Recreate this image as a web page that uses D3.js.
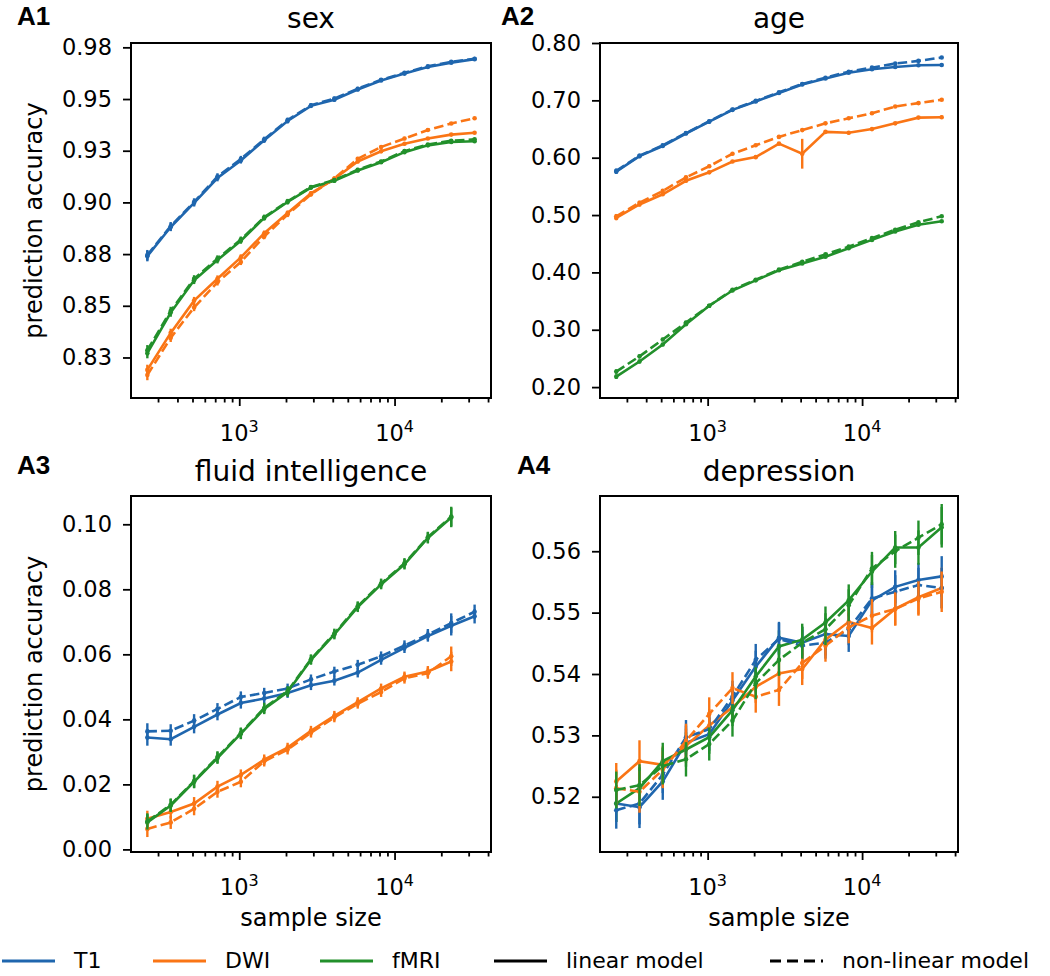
<!DOCTYPE html>
<html>
<head>
<meta charset="utf-8">
<script src="https://cdn.jsdelivr.net/npm/d3@7"></script>
<style>
  html, body { margin: 0; padding: 0; background: #fff; overflow: hidden; }
  svg { display: block; }
  text { font-family: "DejaVu Sans", sans-serif; fill: #000; }
  .plabel { font-family: "Liberation Sans", Arial, sans-serif; font-weight: bold; }
</style>
</head>
<body>
<div id="chart"></div>
<script>
// ---- data ----
const sampleSizes = [256, 362, 512, 724, 1024, 1448, 2048, 2896, 4096, 5793, 8192, 11585, 16384, 23170, 32768];

// A1 sex
const sexT1Lin   = [0.8740, 0.8881, 0.8998, 0.9118, 0.9203, 0.9301, 0.9394, 0.9467, 0.9497, 0.9546, 0.9590, 0.9623, 0.9655, 0.9676, 0.9693];
const sexT1Non   = [0.8745, 0.8885, 0.9002, 0.9125, 0.9210, 0.9305, 0.9398, 0.9470, 0.9502, 0.9550, 0.9593, 0.9627, 0.9658, 0.9680, 0.9695];
const sexDwiLin  = [0.8190, 0.8369, 0.8525, 0.8631, 0.8734, 0.8851, 0.8949, 0.9044, 0.9113, 0.9198, 0.9247, 0.9284, 0.9309, 0.9328, 0.9337];
const sexDwiNon  = [0.8165, 0.8345, 0.8492, 0.8614, 0.8712, 0.8835, 0.8941, 0.9039, 0.9116, 0.9211, 0.9268, 0.9309, 0.9350, 0.9382, 0.9407];
const sexFmriLin = [0.8271, 0.8467, 0.8623, 0.8721, 0.8815, 0.8925, 0.9002, 0.9072, 0.9105, 0.9154, 0.9194, 0.9243, 0.9276, 0.9292, 0.9296];
const sexFmriNon = [0.8285, 0.8475, 0.8630, 0.8728, 0.8820, 0.8928, 0.9005, 0.9074, 0.9108, 0.9158, 0.9198, 0.9248, 0.9280, 0.9298, 0.9305];
const sexErr     = [0.0025, 0.0020, 0.0018, 0.0016, 0.0015, 0.0013, 0.0012, 0.0010, 0.0010, 0.0009, 0.0008, 0.0008, 0.0007, 0.0007, 0.0006];

// A2 age
const ageT1Lin   = [0.5757, 0.6027, 0.6204, 0.6422, 0.6628, 0.6834, 0.6981, 0.7129, 0.7276, 0.7382, 0.7482, 0.7541, 0.7582, 0.7611, 0.7617];
const ageT1Non   = [0.5770, 0.6035, 0.6215, 0.6430, 0.6635, 0.6840, 0.6990, 0.7140, 0.7285, 0.7395, 0.7500, 0.7570, 0.7641, 0.7688, 0.7747];
const ageDwiLin  = [0.4950, 0.5185, 0.5362, 0.5598, 0.5745, 0.5933, 0.6010, 0.6245, 0.6069, 0.6451, 0.6434, 0.6499, 0.6599, 0.6699, 0.6705];
const ageDwiNon  = [0.4979, 0.5215, 0.5421, 0.5657, 0.5851, 0.6069, 0.6216, 0.6363, 0.6481, 0.6599, 0.6687, 0.6775, 0.6893, 0.6952, 0.7011];
const ageFmriLin = [0.2182, 0.2447, 0.2742, 0.3095, 0.3419, 0.3684, 0.3861, 0.4037, 0.4155, 0.4273, 0.4420, 0.4567, 0.4714, 0.4832, 0.4891];
const ageFmriNon = [0.2271, 0.2536, 0.2830, 0.3125, 0.3419, 0.3696, 0.3873, 0.4049, 0.4184, 0.4314, 0.4449, 0.4597, 0.4744, 0.4874, 0.4979];
const ageErr       = [0.0040, 0.0035, 0.0030, 0.0030, 0.0028, 0.0025, 0.0025, 0.0022, 0.0020, 0.0020, 0.0020, 0.0020, 0.0020, 0.0020, 0.0020];
const ageDwiLinErr = [0.0040, 0.0035, 0.0030, 0.0030, 0.0028, 0.0025, 0.0025, 0.0022, 0.0260, 0.0020, 0.0030, 0.0020, 0.0020, 0.0020, 0.0030];

// A3 fluid intelligence
const fluidT1Lin   = [0.0344, 0.0339, 0.0377, 0.0415, 0.0450, 0.0464, 0.0481, 0.0505, 0.0519, 0.0544, 0.0583, 0.0620, 0.0656, 0.0688, 0.0717];
const fluidT1Non   = [0.0363, 0.0365, 0.0396, 0.0432, 0.0469, 0.0481, 0.0495, 0.0523, 0.0547, 0.0568, 0.0594, 0.0627, 0.0661, 0.0696, 0.0731];
const fluidDwiLin  = [0.0094, 0.0115, 0.0141, 0.0193, 0.0229, 0.0276, 0.0313, 0.0365, 0.0411, 0.0453, 0.0495, 0.0531, 0.0547, 0.0578];
const fluidDwiNon  = [0.0063, 0.0083, 0.0125, 0.0177, 0.0208, 0.0271, 0.0307, 0.0359, 0.0406, 0.0448, 0.0484, 0.0526, 0.0542, 0.0594];
const fluidFmriLin = [0.0083, 0.0135, 0.0208, 0.0281, 0.0356, 0.0432, 0.0484, 0.0583, 0.0661, 0.0745, 0.0815, 0.0877, 0.0958, 0.1021];
const fluidFmriNon = [0.0086, 0.0137, 0.0210, 0.0284, 0.0358, 0.0435, 0.0487, 0.0585, 0.0664, 0.0748, 0.0818, 0.0880, 0.0960, 0.1024];
const fluidErr     = [0.0025, 0.0020, 0.0020, 0.0018, 0.0017, 0.0016, 0.0015, 0.0015, 0.0015, 0.0015, 0.0015, 0.0016, 0.0017, 0.0030, 0.0022];

// A4 depression
const deprT1Lin   = [0.5189, 0.5183, 0.5225, 0.5288, 0.5302, 0.5357, 0.5412, 0.5459, 0.5451, 0.5465, 0.5462, 0.5520, 0.5542, 0.5553, 0.5559];
const deprT1Non   = [0.5178, 0.5189, 0.5236, 0.5297, 0.5310, 0.5363, 0.5423, 0.5457, 0.5446, 0.5451, 0.5473, 0.5523, 0.5534, 0.5545, 0.5540];
const deprDwiLin  = [0.5225, 0.5258, 0.5252, 0.5283, 0.5316, 0.5346, 0.5379, 0.5401, 0.5408, 0.5456, 0.5485, 0.5475, 0.5506, 0.5525, 0.5540];
const deprDwiNon  = [0.5214, 0.5208, 0.5244, 0.5291, 0.5335, 0.5377, 0.5363, 0.5374, 0.5418, 0.5446, 0.5476, 0.5495, 0.5506, 0.5523, 0.5534];
const deprFmriLin = [0.5189, 0.5214, 0.5258, 0.5277, 0.5297, 0.5341, 0.5396, 0.5445, 0.5456, 0.5484, 0.5520, 0.5567, 0.5606, 0.5606, 0.5639];
const deprFmriNon = [0.5211, 0.5219, 0.5250, 0.5261, 0.5286, 0.5324, 0.5385, 0.5423, 0.5451, 0.5473, 0.5512, 0.5572, 0.5600, 0.5622, 0.5644];
const deprErr     = [0.0030, 0.0034, 0.0030, 0.0028, 0.0027, 0.0026, 0.0026, 0.0026, 0.0026, 0.0026, 0.0026, 0.0027, 0.0027, 0.0028, 0.0033];

// ticks
const sexTicks   = [0.825, 0.850, 0.875, 0.900, 0.925, 0.950, 0.975];
const sexLabels  = ['0.83', '0.85', '0.88', '0.90', '0.93', '0.95', '0.98'];
const ageTicks   = [0.2, 0.3, 0.4, 0.5, 0.6, 0.7, 0.8];
const ageLabels  = ['0.20', '0.30', '0.40', '0.50', '0.60', '0.70', '0.80'];
const fluidTicks = [0, 0.02, 0.04, 0.06, 0.08, 0.10];
const fluidLabels = ['0.00', '0.02', '0.04', '0.06', '0.08', '0.10'];
const deprTicks  = [0.52, 0.53, 0.54, 0.55, 0.56];
const deprLabels = ['0.52', '0.53', '0.54', '0.55', '0.56'];
const xMajor = [1000, 10000];
const xMajorExp = ['3', '4'];
const minorTicks = [200, 300, 400, 500, 600, 700, 800, 900, 2000, 3000, 4000, 5000, 6000, 7000, 8000, 9000, 20000, 30000, 40000];

const modalities = ['T1', 'DWI', 'fMRI'];
const colors = { T1: '#1f66ae', DWI: '#fa7515', fMRI: '#22902b' };

// ---- layout ----
const width = 1050, height = 976;
const xDomain = [Math.pow(10, 2.303), Math.pow(10, 4.621)];

const panels = [
  { id: 'A1', title: 'sex', frame: { x0: 131, x1: 491, y0: 43, y1: 398 }, labelPos: [17, 25],
    yDomain: [0.8054, 0.9771], ticks: sexTicks, labels: sexLabels, yLabel: true, xLabel: false,
    lin: [sexT1Lin, sexDwiLin, sexFmriLin], non: [sexT1Non, sexDwiNon, sexFmriNon],
    linErr: [sexErr, sexErr, sexErr], nonErr: [sexErr, sexErr, sexErr] },
  { id: 'A2', title: 'age', frame: { x0: 600, x1: 958, y0: 43, y1: 398 }, labelPos: [501, 25],
    yDomain: [0.181, 0.80], ticks: ageTicks, labels: ageLabels, yLabel: false, xLabel: false,
    lin: [ageT1Lin, ageDwiLin, ageFmriLin], non: [ageT1Non, ageDwiNon, ageFmriNon],
    linErr: [ageErr, ageDwiLinErr, ageErr], nonErr: [ageErr, ageErr, ageErr] },
  { id: 'A3', title: 'fluid intelligence', frame: { x0: 131, x1: 491, y0: 496, y1: 852 }, labelPos: [17, 474],
    yDomain: [-0.0008, 0.1087], ticks: fluidTicks, labels: fluidLabels, yLabel: true, xLabel: true,
    lin: [fluidT1Lin, fluidDwiLin, fluidFmriLin], non: [fluidT1Non, fluidDwiNon, fluidFmriNon],
    linErr: [fluidErr, fluidErr, fluidErr], nonErr: [fluidErr, fluidErr, fluidErr] },
  { id: 'A4', title: 'depression', frame: { x0: 600, x1: 958, y0: 496, y1: 852 }, labelPos: [517, 474],
    yDomain: [0.511, 0.569], ticks: deprTicks, labels: deprLabels, yLabel: false, xLabel: true,
    lin: [deprT1Lin, deprDwiLin, deprFmriLin], non: [deprT1Non, deprDwiNon, deprFmriNon],
    linErr: [deprErr, deprErr, deprErr], nonErr: [deprErr, deprErr, deprErr] },
];

const svg = d3.select('#chart')
  .append('svg')
  .attr('width', width)
  .attr('height', height)
  .attr('viewBox', `0 0 ${width} ${height}`);

const lineW = 2.6;
const dash = '9.6,4.2';

function styleAxis(sel) {
  sel.attr('font-size', null).attr('font-family', null);
  sel.select('.domain').remove();
  sel.selectAll('.tick line').attr('stroke', '#000').attr('stroke-width', 1.8);
}

function drawPanel(p) {
  const f = p.frame;
  const x = d3.scaleLog().domain(xDomain).range([f.x0, f.x1]);
  const y = d3.scaleLinear().domain(p.yDomain).range([f.y1, f.y0]);
  const g = svg.append('g');

  // y axis
  const yAxis = g.append('g')
    .attr('transform', `translate(${f.x0},0)`)
    .call(d3.axisLeft(y).tickValues(p.ticks).tickFormat((d, i) => p.labels[i]).tickSize(8).tickPadding(11));
  styleAxis(yAxis);
  yAxis.selectAll('text').attr('font-size', 22.5).attr('fill', '#000');

  // x minor + major ticks
  const minor = g.append('g')
    .attr('transform', `translate(0,${f.y1})`)
    .call(d3.axisBottom(x).tickValues(minorTicks.filter(v => v >= xDomain[0] && v <= xDomain[1])).tickSize(4.5).tickFormat(''));
  styleAxis(minor);
  const major = g.append('g')
    .attr('transform', `translate(0,${f.y1})`)
    .call(d3.axisBottom(x).tickValues(xMajor).tickSize(8).tickFormat(''));
  styleAxis(major);

  xMajor.forEach((v, i) => {
    const t = g.append('text')
      .attr('x', x(v))
      .attr('y', f.y1 + 43)
      .attr('text-anchor', 'middle')
      .attr('font-size', 22.5);
    t.append('tspan').text('10');
    t.append('tspan').attr('dy', -9).attr('font-size', 16).text(xMajorExp[i]);
  });

  // series: linear first, then non-linear
  const line = d3.line().x(d => x(d.n)).y(d => y(d.v));
  const groups = [
    ...modalities.map((m, k) => ({ m, values: p.lin[k], err: p.linErr[k], dashed: false })),
    ...modalities.map((m, k) => ({ m, values: p.non[k], err: p.nonErr[k], dashed: true })),
  ];
  groups.forEach(s => {
    const pts = s.values.map((v, i) => ({ n: sampleSizes[i], v, e: s.err[i] }));
    const sg = g.append('g').attr('class', 'series');
    sg.selectAll('line')
      .data(pts)
      .join('line')
      .attr('x1', d => x(d.n)).attr('x2', d => x(d.n))
      .attr('y1', d => y(d.v - d.e)).attr('y2', d => y(d.v + d.e))
      .attr('stroke', colors[s.m])
      .attr('stroke-width', 2.4);
    sg.append('path')
      .datum(pts)
      .attr('d', line)
      .attr('fill', 'none')
      .attr('stroke', colors[s.m])
      .attr('stroke-width', lineW)
      .attr('stroke-dasharray', s.dashed ? dash : null);
    sg.selectAll('circle')
      .data(pts)
      .join('circle')
      .attr('cx', d => x(d.n)).attr('cy', d => y(d.v))
      .attr('r', 2.3)
      .attr('fill', colors[s.m]);
  });

  // frame
  g.append('rect')
    .attr('x', f.x0).attr('y', f.y0)
    .attr('width', f.x1 - f.x0).attr('height', f.y1 - f.y0)
    .attr('fill', 'none').attr('stroke', '#000').attr('stroke-width', 2);

  // title and panel label
  g.append('text')
    .attr('x', (f.x0 + f.x1) / 2).attr('y', f.y0 - 15)
    .attr('text-anchor', 'middle').attr('font-size', 28)
    .text(p.title);
  g.append('text')
    .attr('class', 'plabel')
    .attr('x', p.labelPos[0]).attr('y', p.labelPos[1])
    .attr('font-size', 26)
    .text(p.id);

  if (p.yLabel) {
    g.append('text')
      .attr('transform', `translate(42,${(f.y0 + f.y1) / 2}) rotate(-90)`)
      .attr('text-anchor', 'middle').attr('font-size', 24)
      .text('prediction accuracy');
  }
  if (p.xLabel) {
    g.append('text')
      .attr('x', (f.x0 + f.x1) / 2).attr('y', f.y1 + 74)
      .attr('text-anchor', 'middle').attr('font-size', 24)
      .text('sample size');
  }
}

panels.forEach(drawPanel);

// legend
const legendItems = [
  { label: 'T1', color: colors.T1, dashed: false, x: 2 },
  { label: 'DWI', color: colors.DWI, dashed: false, x: 153 },
  { label: 'fMRI', color: colors.fMRI, dashed: false, x: 320 },
  { label: 'linear model', color: '#000', dashed: false, x: 494 },
  { label: 'non-linear model', color: '#000', dashed: true, x: 770 },
];
const legendY = 961;
const legend = svg.append('g').attr('class', 'legend');
legendItems.forEach(it => {
  legend.append('line')
    .attr('x1', it.x).attr('x2', it.x + 53)
    .attr('y1', legendY).attr('y2', legendY)
    .attr('stroke', it.color).attr('stroke-width', lineW + 0.6)
    .attr('stroke-dasharray', it.dashed ? '11,6' : null);
  legend.append('text')
    .attr('x', it.x + 72).attr('y', 968)
    .attr('font-size', 22)
    .text(it.label);
});
</script>
</body>
</html>
